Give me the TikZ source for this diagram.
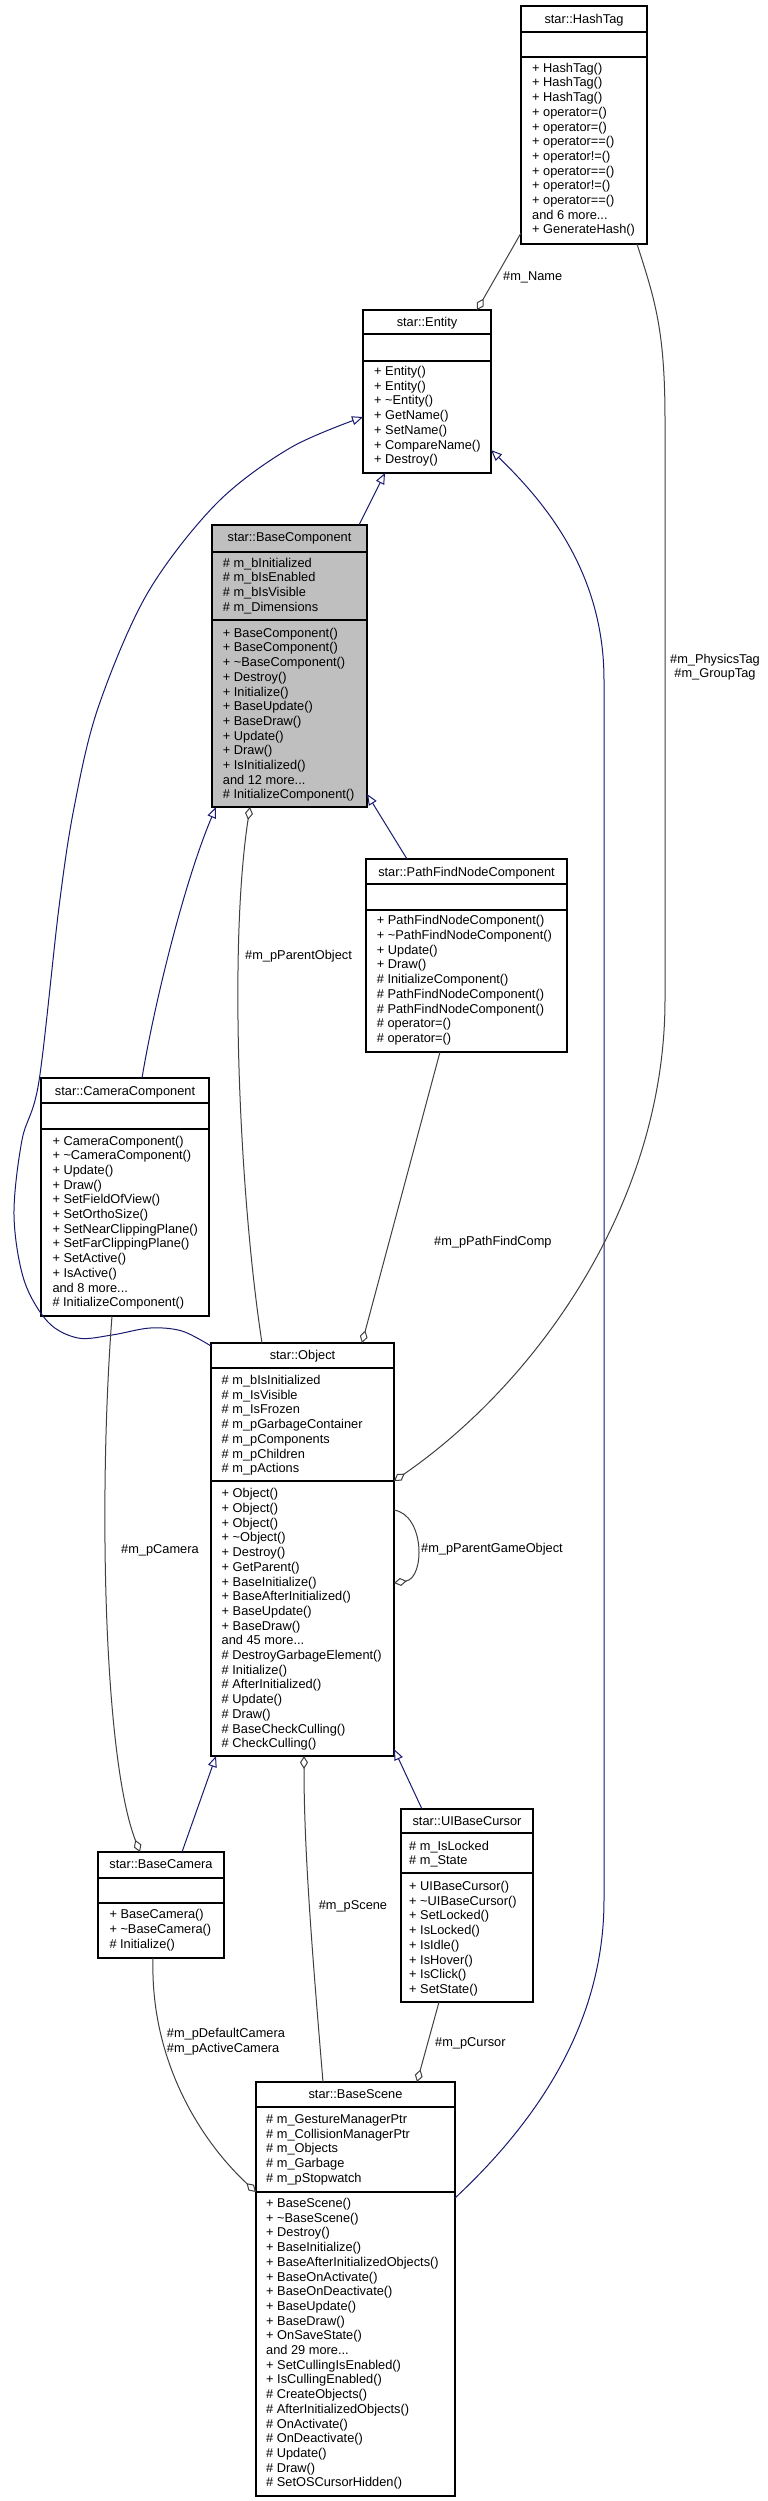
\documentclass[tikz,border=0pt]{standalone}
\usepackage{fontspec}
\setmainfont{Liberation Sans}
\usetikzlibrary{arrows.meta,calc}
\definecolor{navy}{HTML}{191970}
\definecolor{edgegray}{HTML}{404040}
\definecolor{bcgray}{HTML}{BFBFBF}
\newcommand{\fs}{\fontsize{12.8}{14.7}\selectfont}
\newcommand{\tl}{\textasciitilde}
\newcommand{\hsep}[2]{\draw[sepline] ($(#1.north west)+(0,#2)$) -- ($(#1.north east)+(0,#2)$);}
\tikzset{
  box/.style={draw=black, line width=1.1pt, inner sep=0pt, outer sep=0pt, fill=white, anchor=north west},
  sepline/.style={draw=black, line width=1.1pt},
  txt/.style={anchor=base west, inner sep=0pt, font=\fs},
  ttl/.style={anchor=base, inner sep=0pt, font=\fs},
  lbl/.style={anchor=base west, inner sep=0pt, font=\fs},
  inh/.style={draw=navy, line width=1pt, -{Triangle[length=11pt, width=9pt, fill=white]}},
  agg/.style={draw=edgegray, line width=1pt, -{Diamond[length=13pt, width=8pt, fill=white]}},
}
\begin{document}
\begin{tikzpicture}[x=1pt, y=-1pt]
\useasboundingbox (0,0) rectangle (768,2501);
\fill[white] (0,0) rectangle (768,2501);

% ---------- boxes ----------
\node[box, minimum width=126pt, minimum height=238pt] (ht) at (521,6) {};
\hsep{ht}{26} \hsep{ht}{51}
\node[ttl] (ht-t) at (584,23.5) {star::HashTag};
\node[txt] (ht-m) at (532,72.2) {\begin{tabular}[t]{@{}l@{}}
+ HashTag()\\ + HashTag()\\ + HashTag()\\ + operator=()\\ + operator=()\\ + operator==()\\ + operator!=()\\ + operator==()\\ + operator!=()\\ + operator==()\\ and 6 more...\\ + GenerateHash()\end{tabular}};

\node[box, minimum width=128pt, minimum height=163pt] (ent) at (363,310) {};
\hsep{ent}{24} \hsep{ent}{51}
\node[ttl] (ent-t) at (427,326.5) {star::Entity};
\node[txt] (ent-m) at (374,375.5) {\begin{tabular}[t]{@{}l@{}}
+ Entity()\\ + Entity()\\ + \tl Entity()\\ + GetName()\\ + SetName()\\ + CompareName()\\ + Destroy()\end{tabular}};

\node[box, fill=bcgray, minimum width=155pt, minimum height=282pt] (bc) at (212,525) {};
\hsep{bc}{27} \hsep{bc}{95}
\node[ttl] (bc-t) at (289.5,541.8) {star::BaseComponent};
\node[txt] (bc-a) at (222.7,567.2) {\begin{tabular}[t]{@{}l@{}}
\# m\_bInitialized\\ \# m\_bIsEnabled\\ \# m\_bIsVisible\\ \# m\_Dimensions\end{tabular}};
\node[txt] (bc-m) at (222.7,637.2) {\begin{tabular}[t]{@{}l@{}}
+ BaseComponent()\\ + BaseComponent()\\ + \tl BaseComponent()\\ + Destroy()\\ + Initialize()\\ + BaseUpdate()\\ + BaseDraw()\\ + Update()\\ + Draw()\\ + IsInitialized()\\ and 12 more...\\ \# InitializeComponent()\end{tabular}};

\node[box, minimum width=201pt, minimum height=193pt] (pf) at (366,859) {};
\hsep{pf}{25} \hsep{pf}{51}
\node[ttl] (pf-t) at (466.5,876.2) {star::PathFindNodeComponent};
\node[txt] (pf-m) at (376.7,924.8) {\begin{tabular}[t]{@{}l@{}}
+ PathFindNodeComponent()\\ + \tl PathFindNodeComponent()\\ + Update()\\ + Draw()\\ \# InitializeComponent()\\ \# PathFindNodeComponent()\\ \# PathFindNodeComponent()\\ \# operator=()\\ \# operator=()\end{tabular}};

\node[box, minimum width=168pt, minimum height=238pt] (cc) at (41,1078) {};
\hsep{cc}{25} \hsep{cc}{51}
\node[ttl] (cc-t) at (125,1095.2) {star::CameraComponent};
\node[txt] (cc-m) at (52.3,1145) {\begin{tabular}[t]{@{}l@{}}
+ CameraComponent()\\ + \tl CameraComponent()\\ + Update()\\ + Draw()\\ + SetFieldOfView()\\ + SetOrthoSize()\\ + SetNearClippingPlane()\\ + SetFarClippingPlane()\\ + SetActive()\\ + IsActive()\\ and 8 more...\\ \# InitializeComponent()\end{tabular}};

\node[box, minimum width=183pt, minimum height=413pt] (obj) at (211,1343) {};
\hsep{obj}{25} \hsep{obj}{138}
\node[ttl] (obj-t) at (302.5,1359.5) {star::Object};
\node[txt] (obj-a) at (221.5,1384.5) {\begin{tabular}[t]{@{}l@{}}
\# m\_bIsInitialized\\ \# m\_IsVisible\\ \# m\_IsFrozen\\ \# m\_pGarbageContainer\\ \# m\_pComponents\\ \# m\_pChildren\\ \# m\_pActions\end{tabular}};
\node[txt] (obj-m) at (221.5,1497.8) {\begin{tabular}[t]{@{}l@{}}
+ Object()\\ + Object()\\ + Object()\\ + \tl Object()\\ + Destroy()\\ + GetParent()\\ + BaseInitialize()\\ + BaseAfterInitialized()\\ + BaseUpdate()\\ + BaseDraw()\\ and 45 more...\\ \# DestroyGarbageElement()\\ \# Initialize()\\ \# AfterInitialized()\\ \# Update()\\ \# Draw()\\ \# BaseCheckCulling()\\ \# CheckCulling()\end{tabular}};

\node[box, minimum width=132pt, minimum height=193pt] (ui) at (401,1809) {};
\hsep{ui}{24} \hsep{ui}{64}
\node[ttl] (ui-t) at (467,1825.5) {star::UIBaseCursor};
\node[txt] (ui-a) at (409,1850.2) {\begin{tabular}[t]{@{}l@{}}
\# m\_IsLocked\\ \# m\_State\end{tabular}};
\node[txt] (ui-m) at (409,1890.5) {\begin{tabular}[t]{@{}l@{}}
+ UIBaseCursor()\\ + \tl UIBaseCursor()\\ + SetLocked()\\ + IsLocked()\\ + IsIdle()\\ + IsHover()\\ + IsClick()\\ + SetState()\end{tabular}};

\node[box, minimum width=126pt, minimum height=106pt] (cam) at (98,1852) {};
\hsep{cam}{26} \hsep{cam}{51}
\node[ttl] (cam-t) at (161,1868.8) {star::BaseCamera};
\node[txt] (cam-m) at (109.3,1918.8) {\begin{tabular}[t]{@{}l@{}}
+ BaseCamera()\\ + \tl BaseCamera()\\ \# Initialize()\end{tabular}};

\node[box, minimum width=199pt, minimum height=414pt] (sc) at (256,2082) {};
\hsep{sc}{25} \hsep{sc}{110}
\node[ttl] (sc-t) at (355.5,2098) {star::BaseScene};
\node[txt] (sc-a) at (266,2123.5) {\begin{tabular}[t]{@{}l@{}}
\# m\_GestureManagerPtr\\ \# m\_CollisionManagerPtr\\ \# m\_Objects\\ \# m\_Garbage\\ \# m\_pStopwatch\end{tabular}};
\node[txt] (sc-m) at (266,2207.5) {\begin{tabular}[t]{@{}l@{}}
+ BaseScene()\\ + \tl BaseScene()\\ + Destroy()\\ + BaseInitialize()\\ + BaseAfterInitializedObjects()\\ + BaseOnActivate()\\ + BaseOnDeactivate()\\ + BaseUpdate()\\ + BaseDraw()\\ + OnSaveState()\\ and 29 more...\\ + SetCullingIsEnabled()\\ + IsCullingEnabled()\\ \# CreateObjects()\\ \# AfterInitializedObjects()\\ \# OnActivate()\\ \# OnDeactivate()\\ \# Update()\\ \# Draw()\\ \# SetOSCursorHidden()\end{tabular}};

% ---------- inheritance ----------
\draw[inh] ($(bc.north west)+(147,0)$) -- ($(ent.south west)+(22,0)$);
\draw[inh] ($(cc.north west)+(101,0)$) .. controls (155,1000) and (185,880) .. ($(bc.south west)+(4,0)$);
\draw[inh] ($(pf.north west)+(41,0)$) -- ($(bc.south east)+(0,-13)$);
\coordinate (objl) at ($(obj.north west)+(0,3)$);
\coordinate (entl) at ($(ent.north west)+(0,107)$);
\draw[inh] plot[smooth, tension=0.55] coordinates {(objl) (182,1331) (150,1328) (112,1335) (78,1338) (48,1322) (24,1280) (14,1215) (22,1140) (39,1081) (59,907) (74,808) (98,708) (147,594) (216,504) (290,448) (entl)};
\draw[inh] ($(sc.north east)+(0,116)$) .. controls (560,2100) and (604,2000) .. (604,1900) -- (604,680) .. controls (604,575) and (548,505) .. ($(ent.north east)+(0,140)$);
\draw[inh] ($(cam.north west)+(84,0)$) -- ($(obj.south west)+(5,0)$);
\draw[inh] ($(ui.north west)+(21,0)$) -- ($(obj.south east)+(0,-7)$);

% ---------- aggregation ----------
\draw[agg] ($(ht.south west)+(0,-11)$) -- ($(ent.north west)+(114,0)$);
\draw[agg] ($(ht.south west)+(116,0)$) .. controls (655,300) and (665,330) .. (665,420) -- (665,1000) .. controls (665,1200) and (540,1380) .. ($(obj.north east)+(0,138)$);
\draw[agg] ($(obj.north west)+(51,0)$) .. controls (240,1200) and (228,950) .. ($(bc.south west)+(38,0)$);
\draw[agg] ($(pf.south west)+(74,0)$) -- ($(obj.north west)+(151,0)$);
\draw[agg] ($(obj.north east)+(0,167)$) .. controls (425,1515) and (425,1578) .. ($(obj.north east)+(0,240)$);
\draw[agg] ($(cc.south west)+(71,0)$) .. controls (98,1500) and (104,1760) .. ($(cam.north west)+(42,0)$);
\draw[agg] ($(sc.north west)+(67,0)$) .. controls (312,1950) and (304,1850) .. ($(obj.south west)+(93,0)$);
\draw[agg] ($(ui.south west)+(38,0)$) -- ($(sc.north west)+(161,0)$);
\draw[agg] ($(cam.south west)+(55,0)$) .. controls (150,2060) and (200,2140) .. ($(sc.north west)+(0,110)$);

% ---------- labels ----------
\node[lbl] (l-name) at (503,280.5) {\#m\_Name};
\node[anchor=base, inner sep=0pt, font=\fs] (l-tags) at (715,663) {\begin{tabular}[t]{@{}c@{}}\#m\_PhysicsTag\\ \#m\_GroupTag\end{tabular}};
\node[lbl] (l-pobj) at (245,959) {\#m\_pParentObject};
\node[lbl] (l-pf) at (434,1245.5) {\#m\_pPathFindComp};
\node[lbl] (l-pgo) at (421,1552.5) {\#m\_pParentGameObject};
\node[lbl] (l-cam) at (121,1553.5) {\#m\_pCamera};
\node[lbl] (l-scene) at (318.6,1909) {\#m\_pScene};
\node[lbl] (l-cur) at (435,2046) {\#m\_pCursor};
\node[lbl] (l-dcam) at (166.7,2037.5) {\begin{tabular}[t]{@{}l@{}}\#m\_pDefaultCamera\\ \#m\_pActiveCamera\end{tabular}};
\end{tikzpicture}
\end{document}
